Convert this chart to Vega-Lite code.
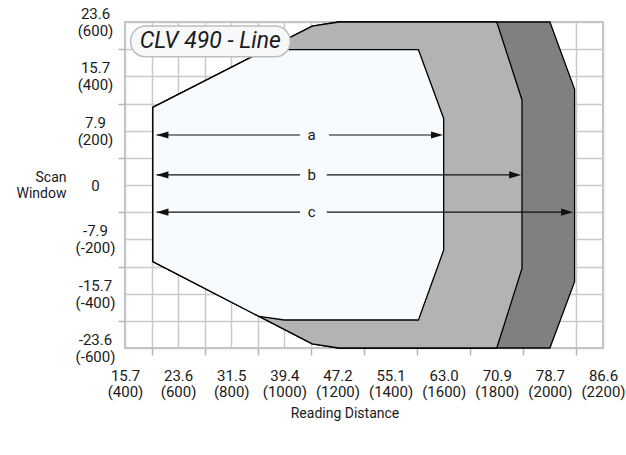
{
  "$schema": "https://vega.github.io/schema/vega-lite/v6.json",
  "width": 478,
  "height": 326,
  "autosize": {"type": "none"},
  "padding": {"left": 125, "top": 22, "right": 23, "bottom": 107},
  "background": "white",
  "config": {
    "font": "Roboto",
    "view": {"stroke": "#bdbdbd", "strokeWidth": 2}
  },
  "datasets": {
    "polys": [
      {"shape": "c", "i": 1, "x": 505, "y": 286},
      {"shape": "c", "i": 2, "x": 1105, "y": 585},
      {"shape": "c", "i": 3, "x": 1205, "y": 600},
      {"shape": "c", "i": 4, "x": 2000, "y": 600},
      {"shape": "c", "i": 5, "x": 2093, "y": 352},
      {"shape": "c", "i": 6, "x": 2093, "y": -356},
      {"shape": "c", "i": 7, "x": 2000, "y": -600},
      {"shape": "c", "i": 8, "x": 1205, "y": -600},
      {"shape": "c", "i": 9, "x": 1105, "y": -585},
      {"shape": "c", "i": 10, "x": 505, "y": -282},
      {"shape": "b", "i": 1, "x": 505, "y": 286},
      {"shape": "b", "i": 2, "x": 1105, "y": 585},
      {"shape": "b", "i": 3, "x": 1205, "y": 600},
      {"shape": "b", "i": 4, "x": 1800, "y": 600},
      {"shape": "b", "i": 5, "x": 1895, "y": 313},
      {"shape": "b", "i": 6, "x": 1895, "y": -307},
      {"shape": "b", "i": 7, "x": 1800, "y": -600},
      {"shape": "b", "i": 8, "x": 1205, "y": -600},
      {"shape": "b", "i": 9, "x": 1105, "y": -585},
      {"shape": "b", "i": 10, "x": 505, "y": -282},
      {"shape": "a", "i": 1, "x": 505, "y": 286},
      {"shape": "a", "i": 2, "x": 905, "y": 485},
      {"shape": "a", "i": 3, "x": 1000, "y": 498},
      {"shape": "a", "i": 4, "x": 1505, "y": 498},
      {"shape": "a", "i": 5, "x": 1600, "y": 245},
      {"shape": "a", "i": 6, "x": 1600, "y": -240},
      {"shape": "a", "i": 7, "x": 1505, "y": -497},
      {"shape": "a", "i": 8, "x": 1000, "y": -497},
      {"shape": "a", "i": 9, "x": 905, "y": -484},
      {"shape": "a", "i": 10, "x": 505, "y": -282}
    ],
    "segs": [
      {"name": "a", "x": 519, "x2": 1059, "y": 184},
      {"name": "a", "x": 1168, "x2": 1580, "y": 184},
      {"name": "b", "x": 519, "x2": 1059, "y": 37},
      {"name": "b", "x": 1160, "x2": 1865, "y": 37},
      {"name": "c", "x": 519, "x2": 1059, "y": -100},
      {"name": "c", "x": 1160, "x2": 2060, "y": -100}
    ],
    "heads": [
      {"name": "a", "dir": "left", "x": 541, "y": 184},
      {"name": "a", "dir": "right", "x": 1575, "y": 184},
      {"name": "b", "dir": "left", "x": 541, "y": 37},
      {"name": "b", "dir": "right", "x": 1869, "y": 37},
      {"name": "c", "dir": "left", "x": 541, "y": -100},
      {"name": "c", "dir": "right", "x": 2065, "y": -100}
    ],
    "labels": [
      {"name": "a", "x": 1103, "y": 184},
      {"name": "b", "x": 1103, "y": 37},
      {"name": "c", "x": 1103, "y": -100}
    ],
    "box": [
      {"label": "CLV 490 - Line", "x": 421, "x2": 1022, "y": 585, "y2": 472, "tx": 721, "ty": 529}
    ]
  },
  "encoding": {
    "x": {
      "field": "x",
      "type": "quantitative",
      "scale": {"domain": [400, 2200], "nice": false, "zero": false},
      "axis": {
        "title": "Reading Distance",
        "values": [400, 500, 600, 700, 800, 900, 1000, 1100, 1200, 1300, 1400, 1500, 1600, 1700, 1800, 1900, 2000, 2100, 2200],
        "grid": true,
        "gridColor": "#c9c9c9",
        "gridWidth": 1.5,
        "domain": false,
        "tickSize": 7,
        "tickWidth": 1.5,
        "tickColor": "#b5b5b5",
        "tickOpacity": {"condition": {"test": "datum.value % 200 == 100", "value": 1}, "value": 0},
        "labelExpr": "datum.value % 200 == 0 ? [format(datum.value / 25.4, '.1f'), '(' + datum.value + ')'] : ''",
        "labelAlign": "center",
        "labelBaseline": "top",
        "labelPadding": 13,
        "labelFontSize": 15,
        "labelLineHeight": 16.5,
        "labelColor": "#1a1a1a",
        "labelOverlap": false,
        "labelBound": false,
        "labelFlush": false,
        "titleFontSize": 14,
        "titleFontWeight": "normal",
        "titleColor": "#1a1a1a",
        "titleX": 219.5,
        "titleY": 65,
        "titleAlign": "center",
        "titleBaseline": "middle"
      }
    },
    "y": {
      "field": "y",
      "type": "quantitative",
      "scale": {"domain": [-600, 600], "nice": false, "zero": false},
      "axis": {
        "title": ["Scan", "Window"],
        "values": [-600, -500, -400, -300, -200, -100, 0, 100, 200, 300, 400, 500, 600],
        "grid": true,
        "gridColor": "#c9c9c9",
        "gridWidth": 1.5,
        "domain": false,
        "tickSize": 7,
        "tickWidth": 1.5,
        "tickColor": "#b5b5b5",
        "tickOpacity": {"condition": {"test": "abs(datum.value) % 200 == 100", "value": 1}, "value": 0},
        "labelExpr": "abs(datum.value) % 200 != 0 ? '' : (datum.value == 0 ? '0' : [(datum.value < 0 ? '-' : '') + format(abs(datum.value) / 25.4, '.1f'), '(' + datum.value + ')'])",
        "labelAlign": "center",
        "labelBaseline": "middle",
        "labelPadding": 23,
        "labelOffset": {"condition": {"test": "datum.value == 0", "value": 0}, "value": -8.5},
        "labelFontSize": 15,
        "labelLineHeight": 17,
        "labelColor": "#1a1a1a",
        "labelOverlap": false,
        "labelBound": false,
        "labelFlush": false,
        "titleFontSize": 14,
        "titleFontWeight": "normal",
        "titleColor": "#1a1a1a",
        "titleAngle": 0,
        "titleX": -59,
        "titleY": 155,
        "titleAlign": "right",
        "titleBaseline": "middle",
        "titleLineHeight": 16
      }
    }
  },
  "layer": [
    {
      "data": {"name": "polys"},
      "transform": [{"filter": "datum.shape == 'c'"}],
      "mark": {"type": "line", "interpolate": "linear-closed", "fill": "#808080", "stroke": "#000000", "strokeWidth": 1.3, "strokeJoin": "miter"},
      "encoding": {"order": {"field": "i", "type": "quantitative"}}
    },
    {
      "data": {"name": "polys"},
      "transform": [{"filter": "datum.shape == 'b'"}],
      "mark": {"type": "line", "interpolate": "linear-closed", "fill": "#b3b3b3", "stroke": "#000000", "strokeWidth": 1.3, "strokeJoin": "miter"},
      "encoding": {"order": {"field": "i", "type": "quantitative"}}
    },
    {
      "data": {"name": "polys"},
      "transform": [{"filter": "datum.shape == 'a'"}],
      "mark": {"type": "line", "interpolate": "linear-closed", "fill": "#f8fbfd", "stroke": "#000000", "strokeWidth": 1.3, "strokeJoin": "miter"},
      "encoding": {"order": {"field": "i", "type": "quantitative"}}
    },
    {
      "data": {"name": "segs"},
      "mark": {"type": "rule", "stroke": "#111111", "strokeWidth": 1.2},
      "encoding": {"x2": {"field": "x2"}}
    },
    {
      "data": {"name": "heads"},
      "mark": {"type": "point", "filled": true, "color": "#111111", "size": 144, "opacity": 1, "strokeWidth": 0},
      "encoding": {
        "shape": {
          "field": "dir",
          "type": "nominal",
          "scale": {"domain": ["left", "right"], "range": ["M-1,0L1,-0.6L1,0.6Z", "M1,0L-1,-0.6L-1,0.6Z"]},
          "legend": null
        }
      }
    },
    {
      "data": {"name": "labels"},
      "mark": {"type": "text", "fontSize": 15, "color": "#1a1a1a", "align": "center", "baseline": "middle"},
      "encoding": {"text": {"field": "name"}}
    },
    {
      "data": {"name": "box"},
      "mark": {"type": "rect", "cornerRadius": 15, "fill": "#f6f8f9", "stroke": "#bdbdbd", "strokeWidth": 1.5},
      "encoding": {"x2": {"field": "x2"}, "y2": {"field": "y2"}}
    },
    {
      "data": {"name": "box"},
      "mark": {"type": "text", "fontSize": 23, "fontStyle": "italic", "color": "#1a1a1a", "align": "center", "baseline": "middle"},
      "encoding": {
        "x": {"field": "tx", "type": "quantitative"},
        "y": {"field": "ty", "type": "quantitative"},
        "text": {"field": "label"}
      }
    }
  ]
}
